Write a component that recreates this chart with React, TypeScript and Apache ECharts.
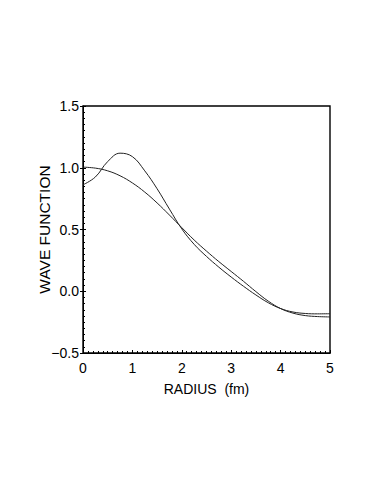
import React, { useEffect, useRef } from "react";
import * as echarts from "echarts";

const radius = [0, 0.25, 0.5, 0.75, 1.0, 1.25, 1.5, 1.75, 2.0, 2.25, 2.5, 2.75, 3.0, 3.25, 3.5, 3.75, 4.0, 4.25, 4.5, 4.75, 5.0];
const waveA = [0.862, 0.925, 1.05, 1.118, 1.09, 0.975, 0.83, 0.665, 0.505, 0.38, 0.282, 0.195, 0.115, 0.04, -0.03, -0.093, -0.14, -0.168, -0.18, -0.183, -0.182];
const waveB = [1.005, 0.997, 0.975, 0.935, 0.877, 0.803, 0.715, 0.617, 0.515, 0.415, 0.325, 0.24, 0.16, 0.08, -0.003, -0.08, -0.14, -0.177, -0.197, -0.205, -0.208];

const FONT = "'Liberation Sans', Arial, Helvetica, sans-serif";

export default function App() {
  const ref = useRef<HTMLDivElement>(null);
  useEffect(() => {
    if (!ref.current) return;
    const chart = echarts.init(ref.current, undefined, { renderer: "svg" });
    const gridRect = { left: 83, top: 106, width: 247, height: 247 };
    chart.setOption({
      animation: false,
      backgroundColor: "#fff",
      grid: [
        { ...gridRect, show: true, borderColor: "#000", borderWidth: 1.4, backgroundColor: "transparent" },
        { ...gridRect, show: false },
      ],
      xAxis: [
        {
          gridIndex: 0, type: "value", min: 0, max: 5, interval: 1, position: "bottom",
          name: "RADIUS  (fm)", nameLocation: "middle", nameGap: 29, nameMoveOverlap: false,
          nameTextStyle: { fontFamily: FONT, fontSize: 14, color: "#000" },
          axisLine: { show: true, onZero: false, lineStyle: { color: "#000", width: 1 } },
          axisTick: { show: false },
          axisLabel: { fontFamily: FONT, fontSize: 14, color: "#000", margin: 8 },
          splitLine: { show: false },
        },
        {
          gridIndex: 1, type: "value", min: 0, max: 5, interval: 1, position: "bottom",
          axisLine: { show: false, onZero: false },
          axisTick: { show: true, inside: true, length: 3, lineStyle: { color: "#000" } },
          minorTick: { show: true, splitNumber: 10, length: 2, lineStyle: { color: "#000" } },
          axisLabel: { show: false },
          splitLine: { show: false },
        },
      ],
      yAxis: [
        {
          gridIndex: 0, type: "value", min: -0.5, max: 1.5, interval: 0.5, position: "left",
          name: "WAVE FUNCTION", nameLocation: "middle", nameGap: 31, nameMoveOverlap: false,
          nameTextStyle: { fontFamily: FONT, fontSize: 15.5, color: "#000" },
          axisLine: { show: true, onZero: false, lineStyle: { color: "#000", width: 1 } },
          axisTick: { show: true, inside: false, length: 3, lineStyle: { color: "#000" } },
          axisLabel: {
            fontFamily: FONT, fontSize: 14, color: "#000", margin: 4,
            formatter: (v: number) => v.toFixed(1).replace("-", "\u2212"),
          },
          splitLine: { show: false },
        },
        {
          gridIndex: 1, type: "value", min: -0.5, max: 1.5, interval: 0.5, position: "left",
          axisLine: { show: false, onZero: false },
          axisTick: { show: true, inside: true, length: 3, lineStyle: { color: "#000" } },
          minorTick: { show: true, splitNumber: 10, length: 2, lineStyle: { color: "#000" } },
          axisLabel: { show: false },
          splitLine: { show: false },
        },
      ],
      series: [
        {
          type: "line", xAxisIndex: 0, yAxisIndex: 0, smooth: 0.4, showSymbol: false,
          data: radius.map((r, i) => [r, waveA[i]]),
          lineStyle: { color: "#222", width: 1 },
        },
        {
          type: "line", xAxisIndex: 0, yAxisIndex: 0, smooth: 0.4, showSymbol: false,
          data: radius.map((r, i) => [r, waveB[i]]),
          lineStyle: { color: "#222", width: 1 },
        },
      ],
    });
    return () => chart.dispose();
  }, []);
  return <div ref={ref} style={{ position: "fixed", left: 0, top: 0, width: 382, height: 494 }} />;
}
